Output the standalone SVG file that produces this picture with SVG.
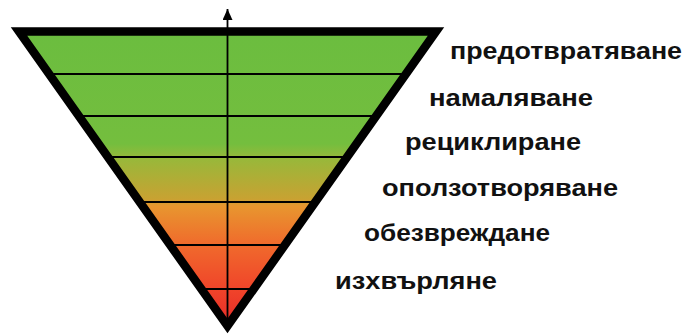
<svg xmlns="http://www.w3.org/2000/svg" width="689" height="334" viewBox="0 0 689 334">
  <defs>
    <linearGradient id="grad" gradientUnits="userSpaceOnUse" x1="0" y1="31" x2="0" y2="328">
      <stop offset="0" stop-color="#6bbd3f"/>
      <stop offset="0.38" stop-color="#74be3e"/>
      <stop offset="0.43" stop-color="#98b83a"/>
      <stop offset="0.565" stop-color="#c8a232"/>
      <stop offset="0.59" stop-color="#e8962f"/>
      <stop offset="0.72" stop-color="#f06a2c"/>
      <stop offset="0.87" stop-color="#f0442a"/>
      <stop offset="1" stop-color="#e62a28"/>
    </linearGradient>
    <marker id="arrow" viewBox="0 0 11 10" refX="11" refY="5" markerWidth="11" markerHeight="10" markerUnits="userSpaceOnUse" orient="auto">
      <path d="M0,0 L11,5 L0,10 Z" fill="#000"/>
    </marker>
    <style>
      .band { stroke: #000; stroke-width: 2; fill: none; }
      .lbl { font-family: "Liberation Sans", Arial, sans-serif; font-weight: bold; font-size: 24px; fill: #111; }
    </style>
  </defs>

  <g id="pyramid">
    <polygon points="19,31.5 436,31.5 227.5,326" fill="url(#grad)"/>
    <g id="bands">
      <line class="band" x1="49" y1="74" x2="406" y2="74"/>
      <line class="band" x1="79" y1="116" x2="376" y2="116"/>
      <line class="band" x1="108" y1="157" x2="347" y2="157"/>
      <line class="band" x1="140" y1="202" x2="315" y2="202"/>
      <line class="band" x1="170" y1="245" x2="285" y2="245"/>
      <line class="band" x1="201" y1="289" x2="254" y2="289"/>
    </g>
    <polygon points="19,31.5 436,31.5 227.5,326" fill="none" stroke="#000" stroke-width="8.5" stroke-linejoin="miter"/>
  </g>

  <g id="connectors">
    <line x1="227.5" y1="326" x2="227.5" y2="9" stroke="#000" stroke-width="1.8" marker-end="url(#arrow)"/>
  </g>

  <g id="labels">
    <g id="label-1"><text class="lbl" x="450" y="59" textLength="232" lengthAdjust="spacingAndGlyphs">предотвратяване</text></g>
    <g id="label-2"><text class="lbl" x="429" y="106" textLength="164" lengthAdjust="spacingAndGlyphs">намаляване</text></g>
    <g id="label-3"><text class="lbl" x="405" y="150" textLength="176" lengthAdjust="spacingAndGlyphs">рециклиране</text></g>
    <g id="label-4"><text class="lbl" x="382" y="196" textLength="236" lengthAdjust="spacingAndGlyphs">оползотворяване</text></g>
    <g id="label-5"><text class="lbl" x="364" y="241" textLength="186" lengthAdjust="spacingAndGlyphs">обезвреждане</text></g>
    <g id="label-6"><text class="lbl" x="335" y="289" textLength="162" lengthAdjust="spacingAndGlyphs">изхвърляне</text></g>
  </g>
</svg>
